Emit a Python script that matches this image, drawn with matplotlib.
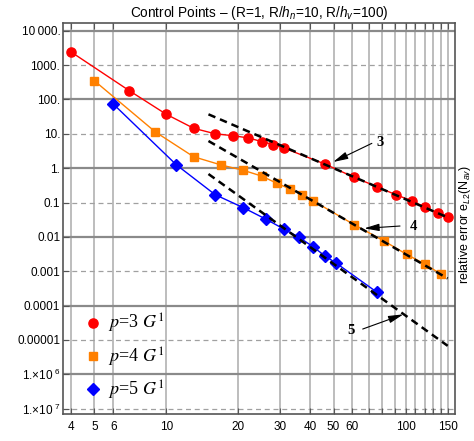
import matplotlib
matplotlib.use("Agg")
import matplotlib.pyplot as plt
from matplotlib.lines import Line2D
from matplotlib.font_manager import FontProperties

plt.rcParams['font.family'] = ['Liberation Sans', 'DejaVu Sans']
plt.rcParams['mathtext.fontset'] = 'custom'
plt.rcParams['mathtext.rm'] = 'Liberation Sans'
plt.rcParams['mathtext.it'] = 'Liberation Sans:italic'
plt.rcParams['mathtext.bf'] = 'Liberation Sans:bold'

# datos
n_p3 = [4, 7, 10, 13, 16, 19, 22, 25, 28, 31, 46, 61, 76, 91, 106, 121, 136, 151]
e_p3 = [2400, 180, 36.9, 14.5, 10.0, 8.8, 7.6, 5.96, 4.87, 3.86, 1.32, 0.54,
        0.288, 0.169, 0.113, 0.0724, 0.0485, 0.038]
n_p4 = [5, 9, 13, 17, 21, 25, 29, 33, 37, 41, 61, 81, 101, 121, 141]
e_p4 = [351, 11.3, 2.15, 1.23, 0.865, 0.59, 0.362, 0.244, 0.165, 0.113,
        0.0226, 0.0077, 0.0031, 0.00159, 0.00081]
n_p5 = [6, 11, 16, 21, 26, 31, 36, 41, 46, 51, 76]
e_p5 = [73.6, 1.26, 0.169, 0.0706, 0.0331, 0.0169, 0.0096, 0.0052, 0.0028,
        0.00177, 0.000244]

# rectas de pendiente (orden 3, 4, 5)
n_fit = [15, 150]
e_fit3 = [36.9, 0.0369]
e_fit4 = [6.17, 0.000617]
e_fit5 = [0.675, 0.00000675]

labels = ['$p$=3 $G^{1}$', '$p$=4 $G^{1}$', '$p$=5 $G^{1}$']
colors = ['#ff0000', '#ff8000', '#0000ff']

xgrid = [4, 5, 6, 10, 20, 30, 40, 50, 60, 70, 80, 90, 100, 110, 120, 130, 140, 150]
xlabels = {4: '4', 5: '5', 6: '6', 10: '10', 20: '20', 30: '30', 40: '40',
           50: '50', 60: '60', 100: '100', 150: '150'}
yticks = [1e4, 1e3, 1e2, 1e1, 1, 0.1, 0.01, 1e-3, 1e-4, 1e-5, 1e-6, 1e-7]
ylabels = ['10\u2009000.', '1000.', '100.', '10.', '1.', '0.1', '0.01', '0.001',
           '0.0001', '0.00001', '1.\u00d710$^{\\ 6}$', '1.\u00d710$^{\\ 7}$']

fig = plt.figure(figsize=(4.74, 4.41), dpi=100)
ax = fig.add_axes([0.133, 0.0612, 0.827, 0.8873])
ax.set_xscale('log')
ax.set_yscale('log')
ax.set_xlim(3.70, 161)
ax.set_ylim(7.0e-8, 1.71e4)

# rejilla
for xv in xgrid:
    ax.axvline(xv, color='#bdbdbd', lw=1.4, zorder=0)
for i, yv in enumerate(yticks):
    if i % 2 == 0:
        ax.axhline(yv, color='#8a8a8a', lw=1.6, zorder=0)
    else:
        ax.axhline(yv, color='#a0a0a0', lw=0.9, ls=(0, (4, 3)), zorder=0)

ax.plot(n_p3, e_p3, '-o', color=colors[0], lw=1, ms=6.6, zorder=3)
ax.plot(n_p4, e_p4, '-s', color=colors[1], lw=1, ms=6.4, zorder=3)
ax.plot(n_p5, e_p5, '-D', color=colors[2], lw=1, ms=5.8, zorder=3)

for ef in [e_fit3, e_fit4, e_fit5]:
    ax.plot(n_fit, ef, color='black', lw=1.8, ls=(0, (3, 2)), zorder=4)

# flechas con el orden
arrow = dict(arrowstyle='-|>,head_length=0.9,head_width=0.22', color='black',
             lw=0.8, shrinkA=0, shrinkB=0)
ax.annotate('', xy=(49.8, 1.51), xytext=(72.3, 5.28), arrowprops=arrow, zorder=5)
ax.annotate('', xy=(67.2, 0.0177), xytext=(94.8, 0.0207), arrowprops=arrow, zorder=5)
ax.annotate('', xy=(97.9, 5.57e-5), xytext=(66.2, 2.08e-5), arrowprops=arrow, zorder=5)
numfont = dict(family='Liberation Serif', weight='bold', fontsize=10.5, va='center')
ax.text(75.5, 5.6, '3', ha='left', **numfont)
ax.text(104, 0.0207, '4', ha='left', **numfont)
ax.text(61.5, 1.95e-5, '5', ha='right', **numfont)

ax.set_xticks(xgrid)
ax.set_xticklabels([xlabels.get(v, '') for v in xgrid])
ax.xaxis.set_minor_locator(matplotlib.ticker.NullLocator())
ax.set_yticks(yticks)
ax.set_yticklabels(ylabels)
ax.yaxis.set_minor_locator(matplotlib.ticker.NullLocator())
ax.tick_params(axis='both', direction='in', length=4, width=0.8, color='#555555',
               labelsize=8.5, top=True)
ax.tick_params(axis='x', pad=5)
ax.tick_params(axis='y', pad=2)
for s in ax.spines.values():
    s.set_color('#555555')
    s.set_linewidth(1.2)

ax.set_title('Control Points \u2013 (R=1, R/$h_n$=10, R/$h_v$=100)', fontsize=9.8, pad=4)

handles = [Line2D([], [], ls='none', marker=m, color=c, ms=s)
           for m, c, s in zip(['o', 's', 'D'], colors, [6.6, 6.4, 5.8])]
lp = FontProperties(family='Liberation Serif', size=13, math_fontfamily='stix')
ax.legend(handles, labels, loc='upper left', bbox_to_anchor=(0.054, 0.26),
          frameon=False, prop=lp, borderpad=0, borderaxespad=0,
          handlelength=1.0, handletextpad=0.3, labelspacing=0.55)

fig.text(0.982, 0.49, 'relative error e$_{L2}$(N$_{av}$)', rotation=90,
         ha='center', va='center', fontsize=9)

fig.savefig('out.png', dpi=100)
